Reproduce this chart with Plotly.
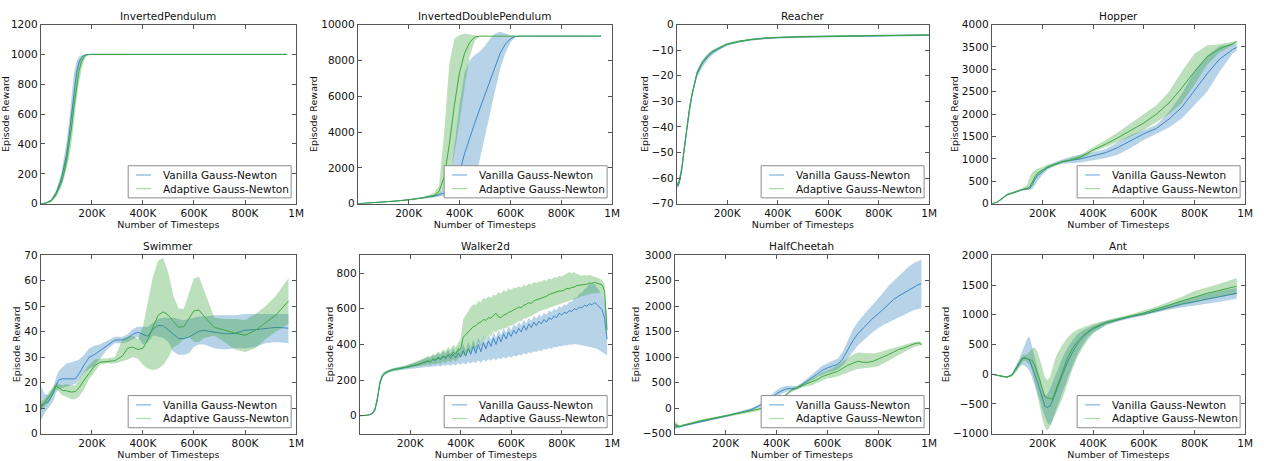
import plotly.graph_objects as go

FONT = "DejaVu Sans"
W, H = 1264, 461

SERIES_NAMES = ["Vanilla Gauss-Newton", "Adaptive Gauss-Newton"]
X_TICKS = [200, 400, 600, 800, 1000]
X_TICK_TEXT = ["200K", "400K", "600K", "800K", "1M"]
X_TITLE = "Number of Timesteps"
Y_TITLE = "Episode Reward"

# ---------------- InvertedPendulum ----------------
IP_X = [0, 20, 40, 60, 80, 90, 100, 110, 120, 130, 140, 150, 160, 170, 180, 190, 200, 300, 400, 500, 600, 700, 800, 900, 965]
IP_VAN = [0, 5, 20, 70, 160, 230, 320, 440, 600, 760, 880, 950, 980, 995, 1000, 1000, 1000, 1000, 1000, 1000, 1000, 1000, 1000, 1000, 1000]
IP_VAN_LO = [0, 2, 12, 50, 120, 170, 240, 340, 480, 640, 790, 900, 950, 980, 995, 1000, 1000, 1000, 1000, 1000, 1000, 1000, 1000, 1000, 1000]
IP_VAN_HI = [0, 8, 30, 90, 200, 290, 400, 540, 720, 870, 950, 985, 995, 1000, 1000, 1000, 1000, 1000, 1000, 1000, 1000, 1000, 1000, 1000, 1000]
IP_ADA = [0, 4, 18, 60, 140, 200, 280, 380, 500, 650, 790, 890, 950, 985, 998, 1000, 1000, 1000, 1000, 1000, 1000, 1000, 1000, 1000, 1000]
IP_ADA_LO = [0, 2, 10, 45, 110, 160, 220, 300, 400, 540, 690, 810, 900, 960, 990, 1000, 1000, 1000, 1000, 1000, 1000, 1000, 1000, 1000, 1000]
IP_ADA_HI = [0, 7, 27, 80, 180, 250, 340, 460, 610, 770, 880, 950, 985, 998, 1000, 1000, 1000, 1000, 1000, 1000, 1000, 1000, 1000, 1000, 1000]

# ---------------- InvertedDoublePendulum ----------------
IDP_X = [0, 50, 100, 150, 200, 250, 300, 320, 340, 360, 380, 400, 420, 440, 460, 480, 500, 520, 540, 560, 580, 600, 620, 640, 700, 800, 900, 957]
IDP_VAN = [0, 40, 90, 150, 220, 300, 420, 500, 600, 700, 900, 1700, 2800, 3700, 4500, 5300, 6100, 6900, 7700, 8400, 8900, 9200, 9330, 9350, 9350, 9350, 9350, 9350]
IDP_VAN_LO = [0, 30, 80, 130, 190, 260, 350, 400, 450, 480, 450, 500, 500, 700, 1200, 2500, 3800, 5000, 6300, 7500, 8400, 9000, 9300, 9350, 9350, 9350, 9350, 9350]
IDP_VAN_HI = [0, 50, 100, 170, 250, 350, 500, 600, 750, 1200, 3200, 5500, 7300, 8000, 8300, 8500, 8800, 9200, 9500, 9600, 9500, 9400, 9350, 9350, 9350, 9350, 9350, 9350]
IDP_ADA = [0, 40, 90, 150, 220, 310, 460, 700, 1500, 3300, 5500, 7300, 8400, 9000, 9300, 9350, 9350, 9350, 9350, 9350, 9350, 9350, 9350, 9350, 9350, 9350, 9350, 9350]
IDP_ADA_LO = [0, 30, 80, 130, 190, 270, 380, 500, 800, 1500, 2800, 4500, 6500, 8200, 9100, 9350, 9350, 9350, 9350, 9350, 9350, 9350, 9350, 9350, 9350, 9350, 9350, 9350]
IDP_ADA_HI = [0, 50, 100, 170, 250, 360, 600, 1000, 4000, 7800, 9200, 9400, 9500, 9450, 9380, 9350, 9350, 9350, 9350, 9350, 9350, 9350, 9350, 9350, 9350, 9350, 9350, 9350]

# ---------------- Reacher ----------------
R_X = [0, 5, 10, 20, 30, 40, 50, 60, 70, 80, 100, 120, 140, 160, 180, 200, 250, 300, 350, 400, 450, 500, 600, 700, 800, 900, 1000]
R_VAN = [-62, -63, -62, -57, -49, -41, -34, -28, -23, -19.5, -15.5, -13, -11, -9.8, -8.8, -7.8, -6.6, -5.8, -5.4, -5.1, -4.9, -4.8, -4.6, -4.5, -4.4, -4.3, -4.1]
R_VAN_LO = [-63, -64, -63, -58.5, -50.5, -42.5, -35.5, -29.5, -24.5, -21, -17, -14.3, -12, -10.6, -9.4, -8.3, -7, -6.2, -5.8, -5.5, -5.3, -5.2, -5, -4.9, -4.8, -4.7, -4.5]
R_VAN_HI = [-61, -62, -61, -55.5, -47.5, -39.5, -32.5, -26.5, -21.5, -18, -14, -11.7, -10, -9, -8.2, -7.3, -6.2, -5.4, -5, -4.7, -4.5, -4.4, -4.2, -4.1, -4, -3.9, -3.7]
R_ADA = [-62, -62.5, -61, -56, -48, -40, -33, -27.5, -22.5, -19, -15, -12.5, -10.7, -9.5, -8.5, -7.6, -6.5, -5.8, -5.3, -5.1, -4.9, -4.8, -4.6, -4.5, -4.3, -4.2, -4.1]
R_ADA_LO = [-62.8, -63.3, -61.8, -57, -49, -41, -34, -28.4, -23.3, -19.7, -15.6, -13, -11.2, -9.9, -8.9, -8, -6.9, -6.1, -5.6, -5.4, -5.2, -5.1, -4.9, -4.8, -4.6, -4.5, -4.4]
R_ADA_HI = [-61.2, -61.7, -60.2, -55, -47, -39, -32, -26.6, -21.7, -18.3, -14.4, -12, -10.2, -9.1, -8.1, -7.2, -6.1, -5.5, -5, -4.8, -4.6, -4.5, -4.3, -4.2, -4, -3.9, -3.8]

# ---------------- Hopper ----------------
H_X = [0, 20, 40, 60, 80, 100, 120, 140, 150, 160, 170, 180, 200, 220, 250, 280, 300, 350, 400, 450, 500, 550, 600, 650, 700, 750, 800, 850, 900, 950, 967]
H_VAN = [0, 30, 110, 200, 230, 270, 310, 330, 340, 420, 540, 620, 700, 800, 880, 940, 960, 1000, 1070, 1140, 1260, 1410, 1560, 1680, 1890, 2150, 2530, 2900, 3230, 3440, 3490]
H_VAN_LO = [0, 20, 90, 180, 210, 250, 290, 300, 310, 330, 400, 500, 640, 760, 840, 890, 900, 920, 970, 1020, 1100, 1250, 1420, 1560, 1700, 1900, 2200, 2500, 2950, 3350, 3420]
H_VAN_HI = [0, 40, 130, 220, 250, 290, 330, 360, 370, 460, 600, 680, 760, 850, 930, 1000, 1030, 1100, 1150, 1220, 1380, 1540, 1640, 1760, 2050, 2450, 2950, 3300, 3520, 3560, 3580]
H_ADA = [0, 30, 110, 200, 240, 280, 320, 340, 380, 480, 600, 680, 760, 820, 880, 940, 960, 1040, 1200, 1330, 1480, 1640, 1800, 2000, 2250, 2580, 2950, 3280, 3460, 3570, 3620]
H_ADA_LO = [0, 20, 90, 180, 220, 260, 300, 310, 340, 420, 520, 620, 720, 790, 850, 910, 930, 1000, 1150, 1260, 1380, 1500, 1640, 1820, 2000, 2250, 2650, 3100, 3380, 3530, 3600]
H_ADA_HI = [0, 40, 130, 220, 260, 300, 340, 420, 600, 700, 750, 780, 820, 870, 910, 970, 990, 1090, 1260, 1420, 1600, 1800, 1980, 2200, 2500, 2950, 3350, 3530, 3560, 3600, 3630]

# ---------------- Swimmer ----------------
S_X = [0, 15, 30, 50, 60, 70, 85, 100, 120, 135, 150, 170, 190, 210, 230, 260, 290, 320, 340, 360, 380, 400, 420, 440, 460, 480, 500, 520, 540, 560, 580, 600, 620, 640, 680, 720, 760, 800, 840, 880, 920, 970]
S_VAN = [11, 12, 12.5, 16, 19, 21, 21.5, 21.6, 21.5, 21.5, 23.5, 27, 30, 31, 32.5, 34.7, 36.7, 36.8, 37.5, 39, 39.8, 39, 38.2, 41, 42.5, 42.3, 40.8, 39, 37.3, 37.3, 37.9, 39.2, 40.2, 40.5, 39.8, 39.2, 39.3, 40.6, 40.8, 41.2, 41.7, 41.4]
S_VAN_LO = [5, 8, 10, 13, 16, 17.5, 18, 18.5, 19, 19.5, 21, 24, 25.5, 26.5, 29, 33, 35.5, 35.5, 36, 37, 38, 35, 36, 38.5, 38, 37.5, 36, 32, 31, 31, 31.5, 34, 35, 35, 33.5, 33, 33.5, 33.5, 34, 35.5, 36, 35.5]
S_VAN_HI = [19, 15.5, 15, 18.5, 22, 24.5, 26, 27.5, 28, 28.5, 29, 31, 33.5, 34.5, 35, 36.5, 38, 38, 39, 41, 42, 42, 42, 43.5, 45, 45.5, 45.5, 45.5, 45, 44.5, 45, 45.5, 46, 46, 46.5, 46.5, 46.5, 47, 47, 47, 47, 47]
S_ADA = [10, 12, 14, 17, 18.8, 18, 17, 16.8, 16.3, 16.5, 18, 21, 24, 26.5, 28, 28.3, 28.6, 30.5, 33.5, 34, 33, 33.5, 37, 42, 46.5, 47.8, 46.5, 44, 41.7, 42, 45, 48.2, 48.5, 46, 41.7, 40.5, 39.5, 38.6, 40.5, 43.5, 46.5, 52]
S_ADA_LO = [9, 10.5, 12, 15.5, 17.5, 16.5, 15, 14.5, 13.5, 13.5, 14.5, 17.5, 21.5, 24, 27, 27.5, 27.5, 28.5, 29, 30, 29.5, 27, 25.5, 25, 25.5, 27, 30, 34, 35, 37, 38, 36, 36, 37.5, 38.5, 36, 33, 32, 33.5, 37, 40, 43]
S_ADA_HI = [12.5, 13.5, 16, 18.5, 20, 19.5, 19, 19.5, 19, 19, 21, 24.5, 27, 29, 29.5, 29.5, 30, 37, 38, 38.5, 37, 42, 52, 62, 68, 69, 63, 54, 49, 49, 55, 61, 61.5, 56, 45.5, 45, 45, 44.5, 47, 50, 54, 61]

# ---------------- Walker2d ----------------
W_X = [0, 10, 20, 30, 40, 50, 60, 70, 80, 90, 100, 110, 120, 130, 140, 150, 160, 170, 180, 190, 200,
       210, 220, 230, 240, 250, 260, 270, 280, 290, 300, 310, 320, 330, 340, 350, 360, 370, 380, 390, 400,
       410, 420, 430, 440, 450, 460, 470, 480, 490, 500, 510, 520, 530, 540, 550, 560, 570, 580, 590, 600,
       610, 620, 630, 640, 650, 660, 670, 680, 690, 700, 710, 720, 730, 740, 750, 760, 770, 780, 790, 800,
       810, 820, 830, 840, 850, 860, 870, 880, 890, 900, 910, 920, 930, 940, 950, 960, 970, 980]
W_VAN = [0, 0, 1, 3, 6, 12, 30, 90, 180, 222, 238, 245, 252, 258, 260, 262, 263, 266, 270, 273, 276,
         279, 284, 287, 290, 296, 299, 305, 302, 315, 310, 325, 315, 332, 320, 340, 322, 345, 325, 352, 330,
         365, 335, 375, 345, 390, 350, 400, 360, 410, 375, 420, 390, 435, 400, 445, 415, 460, 430, 470, 445,
         480, 460, 490, 470, 505, 480, 515, 495, 525, 505, 530, 515, 540, 525, 550, 540, 560, 550, 575, 565,
         580, 575, 590, 585, 600, 595, 610, 605, 620, 615, 628, 622, 635, 625, 612, 595, 550, 430]
W_VAN_LO = [0, 0, 0, 2, 4, 8, 20, 75, 165, 212, 230, 238, 245, 250, 252, 254, 255, 257, 259, 261, 263,
            265, 267, 268, 270, 271, 273, 275, 274, 278, 276, 282, 278, 285, 280, 288, 281, 290, 283, 294, 286,
            298, 288, 302, 292, 306, 295, 310, 298, 314, 303, 318, 308, 322, 312, 326, 316, 330, 320, 334, 326,
            338, 332, 344, 338, 350, 344, 356, 350, 362, 358, 368, 362, 374, 370, 380, 376, 386, 384, 392, 390,
            396, 394, 400, 398, 402, 400, 398, 396, 394, 390, 388, 384, 380, 376, 370, 360, 350, 340]
W_VAN_HI = [0, 0, 2, 5, 9, 18, 42, 108, 195, 232, 246, 252, 259, 265, 268, 270, 272, 276, 281, 285, 290,
            294, 300, 305, 309, 316, 320, 328, 326, 340, 335, 352, 340, 362, 348, 372, 350, 380, 355, 390, 362,
            405, 368, 415, 380, 428, 388, 440, 398, 450, 410, 460, 425, 472, 438, 482, 450, 495, 465, 505, 480,
            515, 498, 525, 508, 540, 518, 550, 532, 560, 545, 568, 555, 578, 566, 590, 582, 600, 592, 615, 608,
            625, 620, 640, 640, 660, 665, 685, 690, 710, 720, 740, 735, 740, 720, 700, 680, 640, 560]
W_ADA = [0, 0, 1, 3, 7, 14, 35, 100, 190, 226, 240, 247, 254, 259, 261, 263, 265, 268, 271, 274, 278,
         281, 286, 290, 292, 298, 302, 308, 305, 318, 313, 328, 320, 335, 328, 345, 338, 355, 348, 368, 375,
         440, 455, 470, 480, 500, 505, 520, 525, 540, 535, 550, 548, 560, 575, 555, 550, 565, 570, 580, 585,
         595, 600, 610, 605, 620, 625, 635, 630, 645, 650, 655, 660, 665, 670, 680, 685, 690, 695, 700, 700,
         705, 715, 712, 720, 722, 730, 732, 735, 740, 738, 745, 742, 748, 745, 740, 735, 700, 480]
W_ADA_LO = [0, 0, 0, 2, 5, 10, 25, 85, 175, 216, 232, 240, 247, 252, 254, 256, 258, 261, 264, 267, 270,
            272, 275, 277, 279, 282, 285, 288, 284, 293, 288, 298, 290, 304, 295, 310, 300, 316, 305, 322, 330,
            345, 330, 370, 345, 395, 365, 420, 390, 440, 420, 460, 445, 475, 465, 485, 480, 495, 490, 505, 505,
            515, 520, 530, 530, 545, 545, 555, 560, 570, 575, 585, 590, 595, 600, 605, 610, 615, 620, 625, 630,
            635, 640, 645, 650, 655, 660, 665, 670, 675, 680, 682, 685, 688, 690, 690, 685, 640, 440]
W_ADA_HI = [0, 0, 2, 5, 10, 20, 48, 115, 205, 238, 250, 256, 262, 267, 270, 272, 274, 278, 282, 286, 291,
            296, 302, 308, 312, 320, 326, 334, 332, 346, 342, 360, 350, 372, 360, 385, 372, 398, 385, 410, 430,
            540, 565, 590, 610, 625, 620, 645, 635, 660, 655, 670, 660, 680, 675, 695, 685, 705, 695, 715, 705,
            720, 715, 727, 720, 735, 727, 743, 735, 750, 745, 755, 750, 763, 757, 770, 765, 777, 773, 785, 780,
            790, 800, 805, 800, 805, 795, 790, 785, 790, 785, 790, 785, 780, 775, 770, 760, 740, 520]

# ---------------- HalfCheetah ----------------
HC_X = [0, 10, 20, 30, 50, 75, 100, 150, 200, 250, 300, 330, 360, 380, 400, 420, 440, 460, 480, 500,
        520, 540, 560, 580, 600, 620, 640, 660, 680, 700, 720, 740, 760, 780, 800, 820, 840, 860, 880, 900,
        920, 940, 960, 970]
HC_VAN = [-350, -360, -370, -350, -330, -300, -270, -215, -160, -100, -30, 40, 120, 200, 280, 340, 380, 385, 390, 460,
          530, 610, 680, 740, 790, 820, 860, 960, 1150, 1320, 1460, 1570, 1670, 1770, 1850, 1950, 2050, 2130, 2200, 2260,
          2320, 2380, 2430, 2440]
HC_VAN_LO = [-400, -400, -390, -370, -350, -320, -290, -235, -180, -120, -55, 10, 85, 160, 220, 280, 320, 340, 360, 420,
             480, 550, 610, 660, 700, 720, 760, 830, 960, 1100, 1230, 1320, 1410, 1500, 1570, 1630, 1680, 1740, 1790, 1830,
             1880, 1920, 1950, 1960]
HC_VAN_HI = [-300, -320, -350, -330, -310, -280, -250, -195, -140, -80, -5, 70, 160, 260, 350, 410, 440, 440, 430, 500,
             580, 670, 750, 830, 880, 920, 970, 1100, 1330, 1540, 1690, 1820, 1930, 2040, 2150, 2270, 2400, 2500, 2600, 2700,
             2780, 2850, 2900, 2920]
HC_ADA = [-320, -340, -360, -340, -310, -280, -250, -200, -150, -110, -60, -20, 20, 40, 70, 190, 280, 350, 400, 440,
          480, 520, 560, 620, 660, 690, 720, 780, 840, 880, 920, 900, 900, 920, 960, 1000, 1050, 1100, 1150, 1180,
          1220, 1260, 1280, 1250]
HC_ADA_LO = [-420, -400, -380, -360, -330, -300, -270, -220, -170, -130, -85, -50, -10, 15, 40, 160, 250, 320, 370, 400,
             430, 450, 490, 540, 580, 600, 620, 650, 700, 740, 770, 780, 790, 800, 820, 870, 930, 990, 1050, 1100,
             1150, 1200, 1230, 1230]
HC_ADA_HI = [-250, -300, -340, -320, -290, -260, -230, -180, -130, -90, -35, 10, 50, 70, 100, 220, 310, 380, 430, 480,
             530, 590, 640, 700, 740, 780, 840, 920, 980, 1050, 1090, 1080, 1070, 1070, 1090, 1120, 1150, 1180, 1220, 1250,
             1280, 1300, 1310, 1300]

# ---------------- Ant ----------------
A_X = [0, 20, 40, 60, 80, 100, 110, 120, 130, 140, 150, 160, 170, 180, 190, 200, 210, 220, 230, 240,
       250, 260, 280, 300, 320, 340, 360, 380, 400, 450, 500, 550, 600, 650, 700, 750, 800, 850, 900, 967]
A_VAN = [0, -20, -40, -50, -10, 120, 200, 270, 265, 260, 230, 120, 0, -120, -260, -420, -540, -560, -540, -450,
         -330, -210, 0, 210, 380, 520, 620, 700, 760, 860, 920, 970, 1010, 1070, 1130, 1180, 1220, 1260, 1300, 1360]
A_VAN_LO = [0, -30, -50, -60, -30, 70, 130, 160, 140, 110, 50, -60, -180, -300, -440, -600, -720, -820, -860, -780,
            -650, -520, -300, -60, 150, 350, 500, 620, 700, 820, 890, 950, 990, 1040, 1090, 1130, 1160, 1190, 1220, 1270]
A_VAN_HI = [0, -10, -30, -40, 10, 170, 270, 380, 500, 600, 630, 450, 250, 80, -80, -240, -360, -340, -250, -140,
            -30, 80, 280, 450, 580, 680, 740, 780, 820, 900, 950, 990, 1040, 1110, 1180, 1240, 1300, 1350, 1400, 1450]
A_ADA = [0, -20, -40, -50, -20, 100, 180, 250, 280, 260, 250, 230, 150, 40, -100, -250, -380, -400, -410, -420,
         -300, -180, 50, 280, 440, 560, 650, 720, 780, 870, 930, 980, 1030, 1090, 1160, 1230, 1300, 1360, 1410, 1480]
A_ADA_LO = [0, -30, -50, -60, -40, 50, 120, 200, 230, 200, 160, 50, -150, -350, -550, -750, -900, -950, -880, -800,
            -700, -600, -400, -150, 100, 300, 450, 580, 680, 830, 900, 960, 990, 1040, 1100, 1160, 1200, 1260, 1300, 1350]
A_ADA_HI = [0, -10, -30, -40, 0, 150, 250, 300, 330, 330, 380, 430, 450, 380, 250, 100, -50, -100, -50, 100,
            250, 350, 500, 620, 700, 750, 790, 820, 850, 910, 960, 1010, 1070, 1140, 1220, 1300, 1400, 1460, 1520, 1620]

# ---------------- panel definitions ----------------
PANELS = [
    ("InvertedPendulum", IP_X, (IP_VAN, IP_VAN_LO, IP_VAN_HI), (IP_ADA, IP_ADA_LO, IP_ADA_HI), [0, 1200], 200),
    ("InvertedDoublePendulum", IDP_X, (IDP_VAN, IDP_VAN_LO, IDP_VAN_HI), (IDP_ADA, IDP_ADA_LO, IDP_ADA_HI), [0, 10000], 2000),
    ("Reacher", R_X, (R_VAN, R_VAN_LO, R_VAN_HI), (R_ADA, R_ADA_LO, R_ADA_HI), [-70, 0], 10),
    ("Hopper", H_X, (H_VAN, H_VAN_LO, H_VAN_HI), (H_ADA, H_ADA_LO, H_ADA_HI), [0, 4000], 500),
    ("Swimmer", S_X, (S_VAN, S_VAN_LO, S_VAN_HI), (S_ADA, S_ADA_LO, S_ADA_HI), [0, 70], 10),
    ("Walker2d", W_X, (W_VAN, W_VAN_LO, W_VAN_HI), (W_ADA, W_ADA_LO, W_ADA_HI), [-100, 900], 200),
    ("HalfCheetah", HC_X, (HC_VAN, HC_VAN_LO, HC_VAN_HI), (HC_ADA, HC_ADA_LO, HC_ADA_HI), [-500, 3000], 500),
    ("Ant", A_X, (A_VAN, A_VAN_LO, A_VAN_HI), (A_ADA, A_ADA_LO, A_ADA_HI), [-1000, 2000], 500),
]

# ---------------- layout constants (pixels) ----------------
BOXES = [
    (41, 298, 19, 203), (360, 616, 19, 203), (681, 935, 19, 203), (998, 1253, 19, 203),
    (41, 298, 256, 439), (362, 616, 256, 439), (679, 935, 256, 439), (998, 1253, 256, 439),
]
LEG_W, LEG_H = 164, 33          # legend frame size
LEG_DX, LEG_DY = 5, 6           # gap to right / bottom axis edge
LEG_ROWS = (9.5, 23.5)          # row centres from legend top
LEG_LINE = (8, 23)              # sample line x-span from legend left
LEG_TEXT = 34                   # text start from legend left

LINE_COLORS = ["#3f87c6", "#3fa83f"]
FILL_COLORS = ["rgba(31,119,180,0.32)", "rgba(44,160,44,0.32)"]
LEGEND_COLORS = ["#7fb2de", "#a8dca8"]
AXIS_COLOR = "#555555"
TEXT_COLOR = "#111111"


def px(xp):
    return xp / W


def py(yp):
    return 1 - yp / H


fig = go.Figure()
shapes, annotations = [], []
layout = dict(
    width=W, height=H, autosize=False,
    margin=dict(l=0, r=0, t=0, b=0),
    paper_bgcolor="white", plot_bgcolor="white",
    font=dict(family=FONT, size=10.5, color=TEXT_COLOR),
    showlegend=False,
)

for i, (title, xs, van, ada, yr, dt) in enumerate(PANELS):
    n = i + 1
    xa = "x" if n == 1 else f"x{n}"
    ya = "y" if n == 1 else f"y{n}"
    l, r, t, b = BOXES[i]

    for k, (mean, lo, hi) in enumerate((van, ada)):
        assert len(mean) == len(xs) == len(lo) == len(hi), (title, k)
        fig.add_trace(go.Scatter(
            x=list(xs) + list(xs)[::-1], y=list(hi) + list(lo)[::-1],
            fill="toself", fillcolor=FILL_COLORS[k], line=dict(width=0),
            mode="lines", hoverinfo="skip", showlegend=False, xaxis=xa, yaxis=ya))
        fig.add_trace(go.Scatter(
            x=xs, y=mean, mode="lines", name=SERIES_NAMES[k],
            line=dict(color=LINE_COLORS[k], width=1),
            showlegend=False, xaxis=xa, yaxis=ya))

    xkey = "xaxis" if n == 1 else f"xaxis{n}"
    ykey = "yaxis" if n == 1 else f"yaxis{n}"
    common = dict(showline=True, linecolor=AXIS_COLOR, linewidth=1, mirror="ticks",
                  ticks="inside", ticklen=4, tickcolor=AXIS_COLOR, showgrid=False, zeroline=False,
                  tickfont=dict(family=FONT, size=10.5, color=TEXT_COLOR))
    layout[xkey] = dict(common, domain=[px(l), px(r)], range=[0, 1000], anchor=ya,
                        tickmode="array", tickvals=X_TICKS, ticktext=X_TICK_TEXT,
                        title=dict(text=X_TITLE, font=dict(family=FONT, size=9.5, color=TEXT_COLOR), standoff=0))
    layout[ykey] = dict(common, domain=[py(b), py(t)], range=yr, anchor=xa,
                        tickmode="linear", tick0=0, dtick=dt, tickformat="d",
                        title=dict(text=Y_TITLE, font=dict(family=FONT, size=9.5, color=TEXT_COLOR), standoff=1))

    # panel title
    annotations.append(dict(
        text=title, x=px((l + r) / 2), y=py(t - 1), xref="paper", yref="paper",
        xanchor="center", yanchor="bottom", showarrow=False,
        font=dict(family=FONT, size=10.5, color=TEXT_COLOR)))

    # legend (matplotlib-style frame in the lower right corner)
    lr = r - LEG_DX
    ll = lr - LEG_W
    lb = b - LEG_DY
    lt = lb - LEG_H
    shapes.append(dict(type="rect", xref="paper", yref="paper",
                       x0=px(ll), x1=px(lr), y0=py(lb), y1=py(lt),
                       fillcolor="white", line=dict(color="#8c8c8c", width=1), layer="above"))
    for k in range(2):
        yc = lt + LEG_ROWS[k]
        shapes.append(dict(type="line", xref="paper", yref="paper",
                           x0=px(ll + LEG_LINE[0]), x1=px(ll + LEG_LINE[1]), y0=py(yc), y1=py(yc),
                           line=dict(color=LEGEND_COLORS[k], width=1.2), layer="above"))
        annotations.append(dict(
            text=SERIES_NAMES[k], x=px(ll + LEG_TEXT), y=py(yc), xref="paper", yref="paper",
            xanchor="left", yanchor="middle", showarrow=False, borderpad=0,
            font=dict(family=FONT, size=10.5, color=TEXT_COLOR)))

layout["shapes"] = shapes
layout["annotations"] = annotations
fig.update_layout(**layout)
fig.write_html("out.html")
